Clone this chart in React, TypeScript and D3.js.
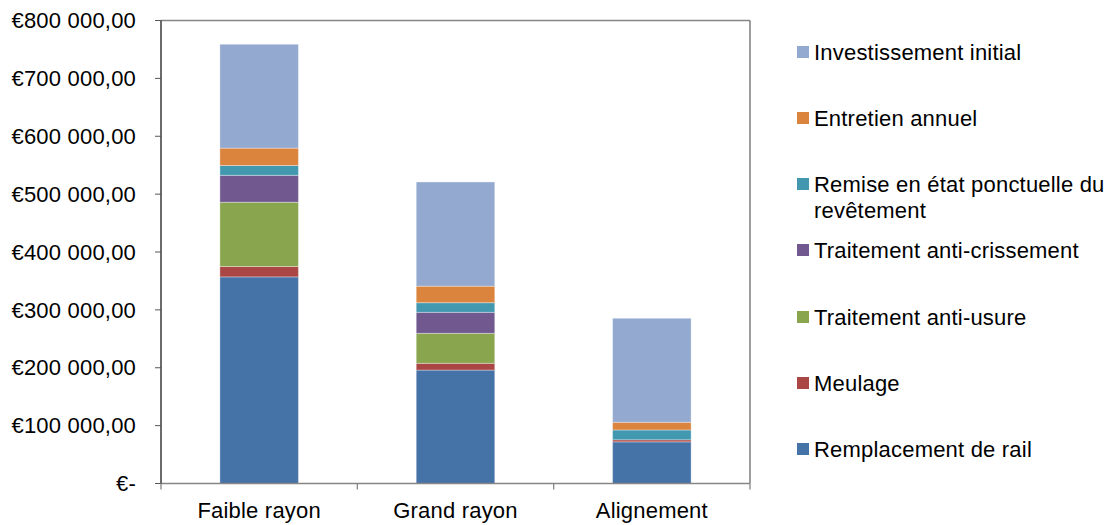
import React from "react";
import * as d3 from "d3";

const categories = ["Faible rayon", "Grand rayon", "Alignement"];
const seriesNames = [
  "Remplacement de rail",
  "Meulage",
  "Traitement anti-usure",
  "Traitement anti-crissement",
  "Remise en état ponctuelle du revêtement",
  "Entretien annuel",
  "Investissement initial",
];
const remplacement = [357000, 196000, 72000];
const meulage = [18000, 11700, 3500];
const antiUsure = [111000, 51800, 0];
const antiCrissement = [46500, 36300, 0];
const remise = [17000, 16600, 17000];
const entretien = [30000, 28600, 13300];
const investissement = [179500, 180000, 179700];
const colors = ["#4572A7", "#AA4643", "#89A54E", "#71588F", "#4198AF", "#DB843D", "#93A9CF"];
const yTicks = [0, 100000, 200000, 300000, 400000, 500000, 600000, 700000, 800000];
const legendLines = [
  ["Investissement initial"],
  ["Entretien annuel"],
  ["Remise en état ponctuelle du", "revêtement"],
  ["Traitement anti-crissement"],
  ["Traitement anti-usure"],
  ["Meulage"],
  ["Remplacement de rail"],
];

const W = 1112, H = 525;
const left = 161, right = 750, top = 20.5, bottom = 483.5;
const font = "'Liberation Sans', Arial, sans-serif";
const fs = 22;
const ls = 0.2;

function fmt(v: number) {
  if (v === 0) return "€-";
  const s = d3.format(",.2f")(v).replace(/,/g, " ").replace(".", ",");
  return "€" + s;
}

export default function App() {
  const allSeries = [remplacement, meulage, antiUsure, antiCrissement, remise, entretien, investissement];
  const rows = categories.map((c, i) => {
    const r: any = { cat: c };
    seriesNames.forEach((n, k) => (r[n] = allSeries[k][i]));
    return r;
  });
  const stack = d3.stack().keys(seriesNames)(rows);
  const x = d3.scaleBand().domain(categories).range([left, right]).paddingInner(0).paddingOuter(0);
  const y = d3.scaleLinear().domain([0, 800000]).range([bottom, top]);
  const bw = x.bandwidth() * 0.4;

  const legendY = [52, 118, 184, 250, 317, 383, 449];

  return (
    <div style={{ position: "absolute", left: 0, top: 0 }}>
      <svg width={W} height={H} style={{ display: "block", background: "#fff" }}>
        {stack.map((s, k) => (
          <g key={k} fill={colors[k]}>
            {s.map((d, i) => {
              const h = y(d[0]) - y(d[1]);
              if (h <= 0) return null;
              return (
                <rect
                  key={i}
                  x={(x(categories[i]) as number) + (x.bandwidth() - bw) / 2}
                  y={y(d[1])}
                  width={bw}
                  height={h}
                  stroke="rgba(255,255,255,0.35)"
                  strokeWidth={1}
                />
              );
            })}
          </g>
        ))}
        <line x1={left} x2={right} y1={top} y2={top} stroke="#868686" strokeWidth={1.3} />
        <line x1={right} x2={right} y1={top} y2={bottom} stroke="#6a6a6a" strokeWidth={1.3} />
        <line x1={left} x2={right} y1={bottom} y2={bottom} stroke="#868686" strokeWidth={1.6} />
        <line x1={left} x2={left} y1={top} y2={bottom} stroke="#3a3a3a" strokeWidth={1.5} />
        {yTicks.map((t) => (
          <g key={t}>
            <line x1={left - 6} x2={left} y1={y(t)} y2={y(t)} stroke="#555" strokeWidth={1} />
            <text
              x={136}
              y={y(t)}
              dy="0.35em"
              textAnchor="end"
              fontFamily={font}
              fontSize={fs}
              letterSpacing={ls}
              fill="#000"
            >
              {fmt(t)}
            </text>
          </g>
        ))}
        {[...categories.map((c) => x(c) as number), right].map((px, i) => (
          <line key={i} x1={px} x2={px} y1={bottom} y2={bottom + 6} stroke="#868686" strokeWidth={1.3} />
        ))}
        {categories.map((c) => (
          <text
            key={c}
            x={(x(c) as number) + x.bandwidth() / 2}
            y={518}
            textAnchor="middle"
            fontFamily={font}
            fontSize={fs}
            letterSpacing={ls}
            fill="#000"
          >
            {c}
          </text>
        ))}
        {legendLines.map((lines, i) => {
          const k = seriesNames.length - 1 - i;
          return (
            <g key={i}>
              <rect x={797} y={legendY[i] - 6} width={12} height={12} fill={colors[k]} />
              {lines.map((l, j) => (
                <text
                  key={j}
                  x={814}
                  y={legendY[i] + j * 26}
                  dy="0.35em"
                  fontFamily={font}
                  fontSize={fs}
                  letterSpacing={ls}
                  fill="#000"
                >
                  {l}
                </text>
              ))}
            </g>
          );
        })}
      </svg>
    </div>
  );
}
